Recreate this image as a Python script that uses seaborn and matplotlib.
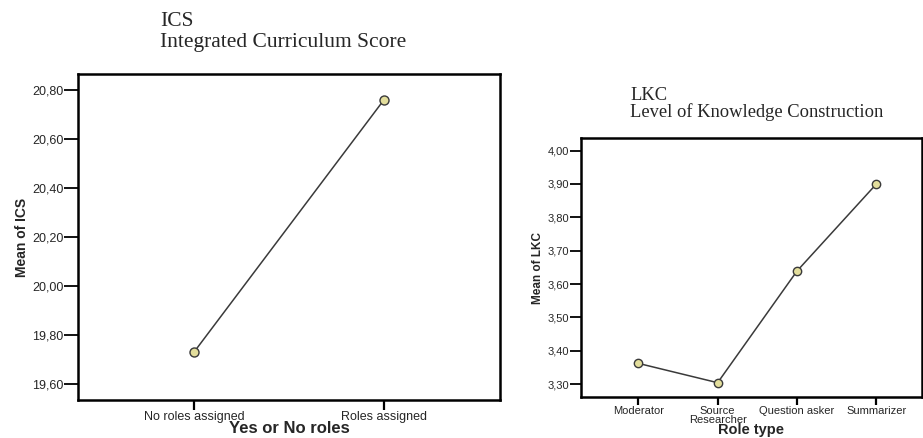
import matplotlib
matplotlib.use("Agg")
import matplotlib.pyplot as plt
import seaborn as sns
from matplotlib.ticker import FuncFormatter

# data
ics_groups = ["No roles assigned", "Roles assigned"]
ics_means = [19.73, 20.76]
ics_ticks = [19.6, 19.8, 20.0, 20.2, 20.4, 20.6, 20.8]

lkc_roles = ["Moderator", "Source\nResearcher", "Question asker", "Summarizer"]
lkc_means = [3.362, 3.304, 3.639, 3.90]
lkc_ticks = [3.3, 3.4, 3.5, 3.6, 3.7, 3.8, 3.9, 4.0]

sns.set_style("white")
plt.rcParams['font.family'] = ['Liberation Sans', 'DejaVu Sans']

LINE = "#3a3a3a"
FACE = "#e3de9c"
comma = FuncFormatter(lambda v, p: ('%.2f' % v).replace('.', ','))


def style_axes(ax, ylen, xlen, fs):
    for s in ax.spines.values():
        s.set_visible(True)
        s.set_color("black")
        s.set_linewidth(1.8)
    ax.tick_params(axis='y', direction='out', length=ylen, width=1.3,
                   color='black', labelsize=fs, pad=0.5, left=True)
    ax.tick_params(axis='x', direction='out', length=xlen, width=1.6,
                   color='black', labelsize=fs, pad=1, bottom=True)
    ax.yaxis.set_major_formatter(comma)


fig = plt.figure(figsize=(9.23, 4.38), dpi=100)

# left panel: ICS
ax1 = fig.add_axes([0.0845, 0.0868, 0.4572, 0.7443])
sns.lineplot(x=ics_groups, y=ics_means, sort=False, ax=ax1, color=LINE,
             linewidth=1.1, marker='o', markersize=6.5, markerfacecolor=FACE,
             markeredgecolor=LINE, markeredgewidth=1.0)
ax1.set_xlim(-0.61, 1.61)
ax1.set_ylim(19.535, 20.865)
ax1.set_yticks(ics_ticks)
style_axes(ax1, 10, 7, 9)
ax1.set_xlabel("Yes or No roles", fontsize=12, fontweight='bold', labelpad=-1.5)
ax1.set_ylabel("Mean of ICS", fontsize=10, fontweight='bold', labelpad=2)
fig.text(0.1735, 0.952, "ICS", family='Liberation Serif', fontsize=15.5, va='center')
fig.text(0.1735, 0.902, "Integrated Curriculum Score", family='Liberation Serif',
         fontsize=15.5, va='center')

# right panel: LKC
ax2 = fig.add_axes([0.6291, 0.0943, 0.3694, 0.5899])
sns.lineplot(x=lkc_roles, y=lkc_means, sort=False, ax=ax2, color=LINE,
             linewidth=1.1, marker='o', markersize=6, markerfacecolor=FACE,
             markeredgecolor=LINE, markeredgewidth=1.0)
ax2.set_xlim(-0.726, 3.57)
ax2.set_ylim(3.262, 4.037)
ax2.set_yticks(lkc_ticks)
style_axes(ax2, 8, 6, 8)
for lab in ax2.get_xticklabels():
    lab.set_linespacing(0.85)
ax2.set_xlabel("Role type", fontsize=10.5, fontweight='bold', labelpad=-1.5)
ax2.set_ylabel("Mean of LKC", fontsize=8.5, fontweight='bold', labelpad=2)
fig.text(0.6826, 0.783, "LKC", family='Liberation Serif', fontsize=13.3, va='center')
fig.text(0.6826, 0.744, "Level of Knowledge Construction", family='Liberation Serif',
         fontsize=13.3, va='center')

fig.savefig("out.png", dpi=100)
